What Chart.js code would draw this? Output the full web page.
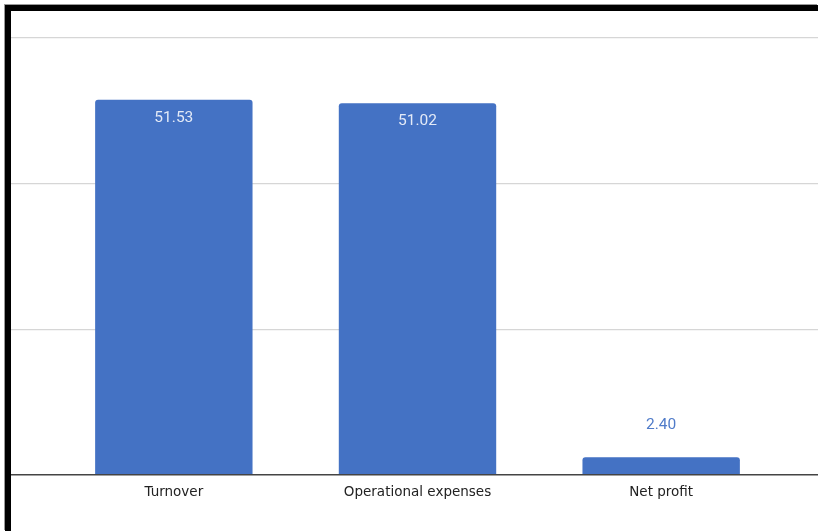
<!DOCTYPE html>
<html>
<head>
<meta charset="utf-8">
<script src="https://cdn.jsdelivr.net/npm/chart.js@4/dist/chart.umd.min.js"></script>
<style>
  html, body { margin: 0; padding: 0; background: #fff; }
  #frame {
    position: absolute; left: 5px; top: 5px;
    width: 807px; height: 520px;
    border-top: 6px solid #000; border-left: 6px solid #000;
    box-shadow: -1px -1px 0 #999;
  }
  #chart { display: block; }
</style>
</head>
<body>
<div id="frame"><canvas id="chart" width="807" height="520"></canvas></div>
<script>
const categories = ['Turnover', 'Operational expenses', 'Net profit'];
const amounts = [51.53, 51.02, 2.40];
const yTicks = [0, 20, 40, 60];

const barColor = '#4472c4';

// value labels: inside the bar top when it fits, otherwise above it
const valueLabels = {
  id: 'valueLabels',
  afterDatasetsDraw(chart) {
    const ctx = chart.ctx;
    const meta = chart.getDatasetMeta(0);
    ctx.save();
    ctx.font = '15.5px Roboto';
    ctx.textAlign = 'center';
    ctx.textBaseline = 'middle';
    meta.data.forEach((bar, i) => {
      const txt = amounts[i].toFixed(2);
      const h = bar.base - bar.y;
      if (h > 40) {
        ctx.fillStyle = '#e3eaf7';
        ctx.fillText(txt, bar.x, bar.y + 18);
      } else {
        ctx.fillStyle = '#4f7bc9';
        ctx.fillText(txt, bar.x, bar.y - 32);
      }
    });
    ctx.restore();
  }
};

new Chart(document.getElementById('chart'), {
  type: 'bar',
  data: {
    labels: categories,
    datasets: [{
      data: amounts,
      backgroundColor: barColor,
      borderRadius: { topLeft: 3, topRight: 3 },
      borderSkipped: 'bottom',
      barPercentage: 0.646,
      categoryPercentage: 1
    }]
  },
  options: {
    responsive: false,
    animation: false,
    layout: { padding: { top: 27, bottom: 28, left: 0, right: 0 } },
    plugins: { legend: { display: false }, tooltip: { enabled: false } },
    scales: {
      x: {
        grid: { display: false },
        border: { display: false },
        ticks: { color: '#222', font: { family: 'DejaVu Sans', size: 13.5 }, padding: 2 }
      },
      y: {
        min: 0, max: 60,
        afterBuildTicks: s => { s.ticks = yTicks.map(v => ({ value: v })); },
        ticks: { display: false },
        border: { display: false },
        grid: {
          tickLength: 41,
          color: c => c.tick && c.tick.value === 0 ? '#444' : '#d6d6d6',
          lineWidth: c => c.tick && c.tick.value === 0 ? 1.5 : 1.3
        }
      },
      y2: {
        position: 'right',
        min: 0, max: 60,
        afterBuildTicks: s => { s.ticks = yTicks.map(v => ({ value: v })); },
        ticks: { display: false },
        border: { display: false },
        grid: {
          drawOnChartArea: false,
          tickLength: 35,
          color: c => c.tick && c.tick.value === 0 ? '#444' : '#d6d6d6',
          lineWidth: c => c.tick && c.tick.value === 0 ? 1.5 : 1.3
        }
      }
    }
  },
  plugins: [valueLabels]
});
</script>
</body>
</html>
